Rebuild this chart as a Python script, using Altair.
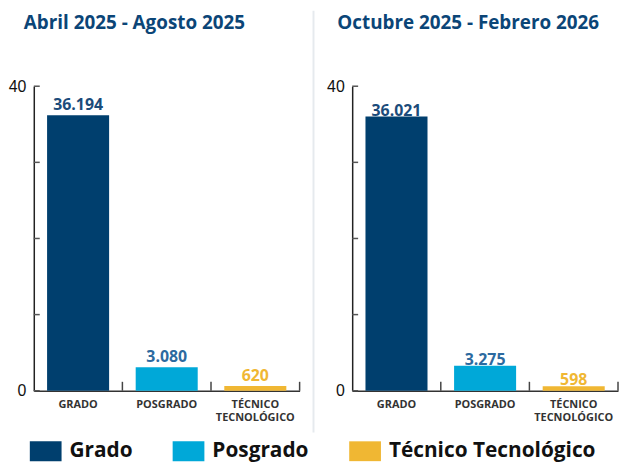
import altair as alt
import pandas as pd

periodos = ["Abril 2025 - Agosto 2025", "Octubre 2025 - Febrero 2026"]
niveles = ["Grado", "Posgrado", "Técnico Tecnológico"]
valores_p1 = [36194, 3080, 620]
valores_p2 = [36021, 3275, 598]
y_ticks = [0, 10000, 20000, 30000, 40000]
y_labels = [0, 40000]

bar_colors = ["#003f6e", "#00a8d8", "#f0b733"]
text_colors = ["#1b4b7a", "#2c6aa0", "#f0b733"]

rows = []
for p, vals in zip(periodos, [valores_p1, valores_p2]):
    for n, v in zip(niveles, vals):
        rows.append({"Periodo": p, "Nivel": n, "Valor": v})
df = pd.DataFrame(rows)
ticks_df = pd.DataFrame({"t": y_ticks})

W, H = 268, 307
FONT = "Open Sans"

xband = alt.Scale(domain=niveles, paddingInner=0.3, paddingOuter=0.15)
yscale = alt.Scale(domain=[0, 40000], nice=False)

x_axis = alt.Axis(
    title=None,
    labelAngle=0,
    ticks=False,
    bandPosition=0.5,
    labelPadding=8,
    labelFont=FONT,
    labelFontSize=11,
    labelFontWeight="bold",
    labelColor="#333333",
    labelLineHeight=13,
    labelExpr="split(upper(datum.label), ' ')",
    domainColor="#333333",
    domainWidth=1.5,
)
y_axis = alt.Axis(
    title=None,
    values=y_labels,
    ticks=False,
    grid=False,
    labelPadding=8,
    labelFont="Liberation Sans",
    labelFontSize=16,
    labelColor="#111111",
    labelExpr="datum.value / 1000",
    domainColor="#222222",
    domainWidth=1.5,
)

legend = alt.Legend(
    title=None,
    orient="none",
    legendX=-4,
    legendY=352,
    direction="horizontal",
    symbolType="M-1,-0.625H1V0.625H-1Z",
    symbolSize=1024,
    symbolStrokeWidth=0,
    symbolOpacity=1,
    labelFont=FONT,
    labelFontSize=21,
    labelFontWeight="bold",
    labelColor="#111111",
    labelOffset=8,
    labelLimit=400,
    columnPadding=40,
)


def panel(periodo, text_dy, text_first, title_dx):
    sub = df[df["Periodo"] == periodo]
    base = alt.Chart(sub)
    x_enc = alt.X("Nivel:N", sort=niveles, scale=xband, axis=x_axis)
    y_enc = alt.Y("Valor:Q", scale=yscale, axis=y_axis)
    bars = base.mark_bar().encode(
        x=x_enc,
        y=y_enc,
        color=alt.Color(
            "Nivel:N",
            sort=niveles,
            scale=alt.Scale(domain=niveles, range=bar_colors),
            legend=legend,
        ),
    )
    texts = base.transform_calculate(
        lbl="replace(format(datum.Valor, ','), ',', '.')"
    ).mark_text(
        font=FONT, fontSize=16, fontWeight="bold", baseline="bottom", dy=text_dy
    ).encode(
        x=x_enc,
        y=y_enc,
        text="lbl:N",
        fill=alt.Fill(
            "Nivel:N",
            sort=niveles,
            scale=alt.Scale(domain=niveles, range=text_colors),
            legend=None,
        ),
    )
    inner = alt.layer(texts, bars) if text_first else alt.layer(bars, texts)
    yt = alt.Chart(ticks_df).mark_rule(color="#555555", strokeWidth=1.5).encode(
        y=alt.Y("t:Q", scale=yscale),
        x=alt.value(0),
        x2=alt.value(6),
    )
    inner = alt.layer(inner, yt)
    xt = base.mark_rule(color="#444444", strokeWidth=1.5).encode(
        x=alt.X(
            "Nivel:N",
            sort=niveles,
            scale=alt.Scale(domain=niveles, paddingInner=0, paddingOuter=0),
            bandPosition=1,
            axis=None,
        ),
        y=alt.value(H - 9),
        y2=alt.value(H),
    )
    return alt.layer(inner, xt).resolve_scale(x="independent").properties(
        width=W,
        height=H,
        title=alt.TitleParams(
            periodo,
            anchor="start",
            frame="group",
            dx=title_dx,
            font=FONT,
            fontSize=19,
            fontWeight="bold",
            color="#0b4577",
            baseline="alphabetic",
            offset=31,
        ),
    )


sep = alt.Chart(pd.DataFrame({"s": [0]})).mark_rule(
    color="#e6eaee", strokeWidth=2
).encode(
    x=alt.value(0),
    y=alt.value(-76),
    y2=alt.value(H + 42),
).properties(width=1, height=H)

left = panel(periodos[0], -2, False, -10)
right = panel(periodos[1], 2, True, -15)

chart = alt.hconcat(left, sep, right, spacing=12).properties(
    padding=0
).configure_view(stroke=None)

chart.save("out.html", embed_options={"renderer": "svg", "actions": False})
